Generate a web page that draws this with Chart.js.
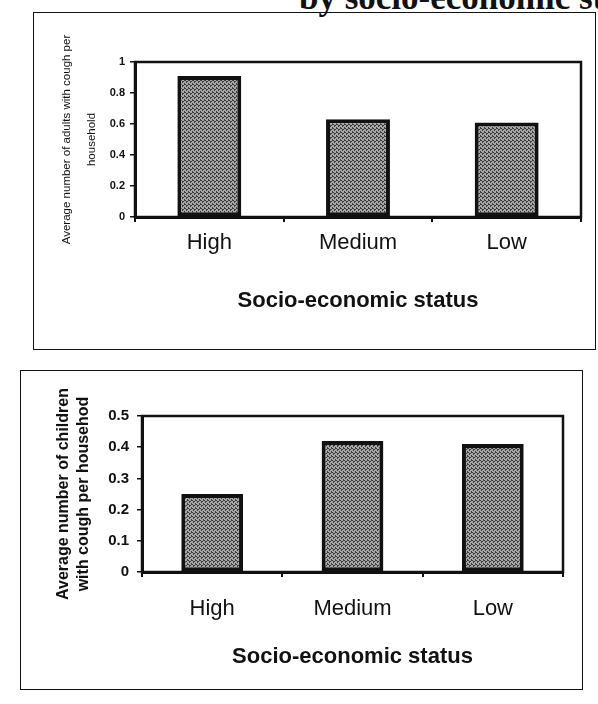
<!DOCTYPE html>
<html>
<head>
<meta charset="utf-8">
<script src="https://cdn.jsdelivr.net/npm/chart.js@4"></script>
<style>
  html, body { margin: 0; padding: 0; background: #fff; }
  body { width: 598px; height: 704px; position: relative; overflow: hidden; font-family: "Liberation Sans", Arial, sans-serif; }
  .panel { position: absolute; border: 1.5px solid #111; box-sizing: border-box; }
  .wrap { position: absolute; }
  #heading { position: absolute; left: 299px; top: -20px; font: bold 35px "Liberation Serif", "Times New Roman", serif; line-height: 1; white-space: nowrap; color: #111; }
</style>
</head>
<body>
<div id="heading">by socio-economic status</div>
<div class="panel" style="left:33px;top:12px;width:563px;height:338px;"></div>
<div class="panel" style="left:20px;top:370px;width:563px;height:320px;"></div>
<div class="wrap" style="left:33px;top:12px;width:563px;height:338px;"><canvas id="adults"></canvas></div>
<div class="wrap" style="left:20px;top:368px;width:563px;height:322px;"><canvas id="children"></canvas></div>
<script>
const categories = ['High', 'Medium', 'Low'];
const adultValues = [0.91, 0.63, 0.61];
const childValues = [0.25, 0.42, 0.41];
const adultTicks = [0, 0.2, 0.4, 0.6, 0.8, 1];
const childTicks = [0, 0.1, 0.2, 0.3, 0.4, 0.5];

// stippled grey fill, like the printed bars
const makeStipple = () => {
    const c = document.createElement('canvas');
    c.width = 4;
    c.height = 4;
    const g = c.getContext('2d');
    g.fillStyle = '#a8a8a8';
    g.fillRect(0, 0, 4, 4);
    g.fillStyle = '#3c3c3c';
    [[0, 0], [2, 1], [1, 2], [3, 3], [3, 0], [1, 1]].forEach(([x, y]) => g.fillRect(x, y, 1, 1));
    return g.createPattern(c, 'repeat');
};
const stipple = makeStipple();

const frame = {
    id: 'frame',
    afterDatasetsDraw(chart) {
        const { ctx, chartArea: a } = chart;
        ctx.save();
        ctx.strokeStyle = '#111';
        ctx.lineWidth = 2.5;
        ctx.strokeRect(a.left, a.top, a.right - a.left, a.bottom - a.top);
        ctx.restore();
    }
};

const makeChart = (id, values, ticks, o) => {
    const ctx = document.getElementById(id).getContext('2d');
    return new Chart(ctx, {
        type: 'bar',
        data: {
            labels: categories,
            datasets: [{
                data: values,
                backgroundColor: stipple,
                borderColor: '#111',
                borderWidth: 4,
                borderSkipped: false,
                categoryPercentage: 1,
                barPercentage: o.barPct
            }]
        },
        options: {
            responsive: true,
            maintainAspectRatio: false,
            animation: false,
            events: [],
            layout: { padding: o.padding },
            plugins: { legend: { display: false }, tooltip: { enabled: false } },
            scales: {
                x: {
                    afterFit: s => { s.height = o.xHeight; },
                    grid: { drawOnChartArea: false, drawTicks: true, tickLength: 5, color: '#111', lineWidth: 2 },
                    border: { color: '#111', width: 3 },
                    ticks: { color: '#111', padding: o.xTickPad, font: { family: 'Liberation Sans', size: o.catSize } },
                    title: {
                        display: true,
                        text: 'Socio-economic status',
                        color: '#111',
                        padding: { top: 0, bottom: o.xTitlePad },
                        font: { family: 'Liberation Sans', size: o.catSize, weight: 'bold' }
                    }
                },
                y: {
                    min: 0,
                    max: ticks[ticks.length - 1],
                    afterFit: s => { s.width = o.yWidth; },
                    afterBuildTicks: s => { s.ticks = ticks.map(v => ({ value: v })); },
                    grid: { drawOnChartArea: false, drawTicks: true, tickLength: 5, color: '#111', lineWidth: 1.5 },
                    border: { color: '#111', width: 3 },
                    ticks: {
                        color: '#111',
                        padding: o.yTickPad,
                        font: { family: 'Liberation Sans', size: o.tickSize, weight: 'bold' },
                        callback: v => String(v)
                    },
                    title: {
                        display: true,
                        text: o.yTitle,
                        color: '#111',
                        padding: { top: o.yTitlePad, bottom: 0 },
                        font: { family: 'Liberation Sans', size: o.yTitleSize, weight: o.yTitleWeight, lineHeight: o.yTitleLine }
                    }
                }
            }
        },
        plugins: [frame]
    });
};

makeChart('adults', adultValues, adultTicks, {
    barPct: 0.43,
    padding: { left: 8, top: 50, right: 15, bottom: 0 },
    xHeight: 133,
    yWidth: 94,
    xTickPad: 8,
    xTitlePad: 36,
    yTickPad: 5,
    catSize: 22,
    tickSize: 11,
    yTitle: ['Average number of adults with cough per', 'household'],
    yTitlePad: 13,
    yTitleSize: 11.5,
    yTitleWeight: 'normal',
    yTitleLine: 2.2
});

makeChart('children', childValues, childTicks, {
    barPct: 0.44,
    padding: { left: 6, top: 48, right: 20, bottom: 0 },
    xHeight: 118,
    yWidth: 116,
    xTickPad: 19,
    xTitlePad: 20,
    yTickPad: 8,
    catSize: 22,
    tickSize: 15,
    yTitle: ['Average number of children', 'with cough per househod'],
    yTitlePad: 28,
    yTitleSize: 16,
    yTitleWeight: 'bold',
    yTitleLine: 1.25
});
</script>
</body>
</html>
